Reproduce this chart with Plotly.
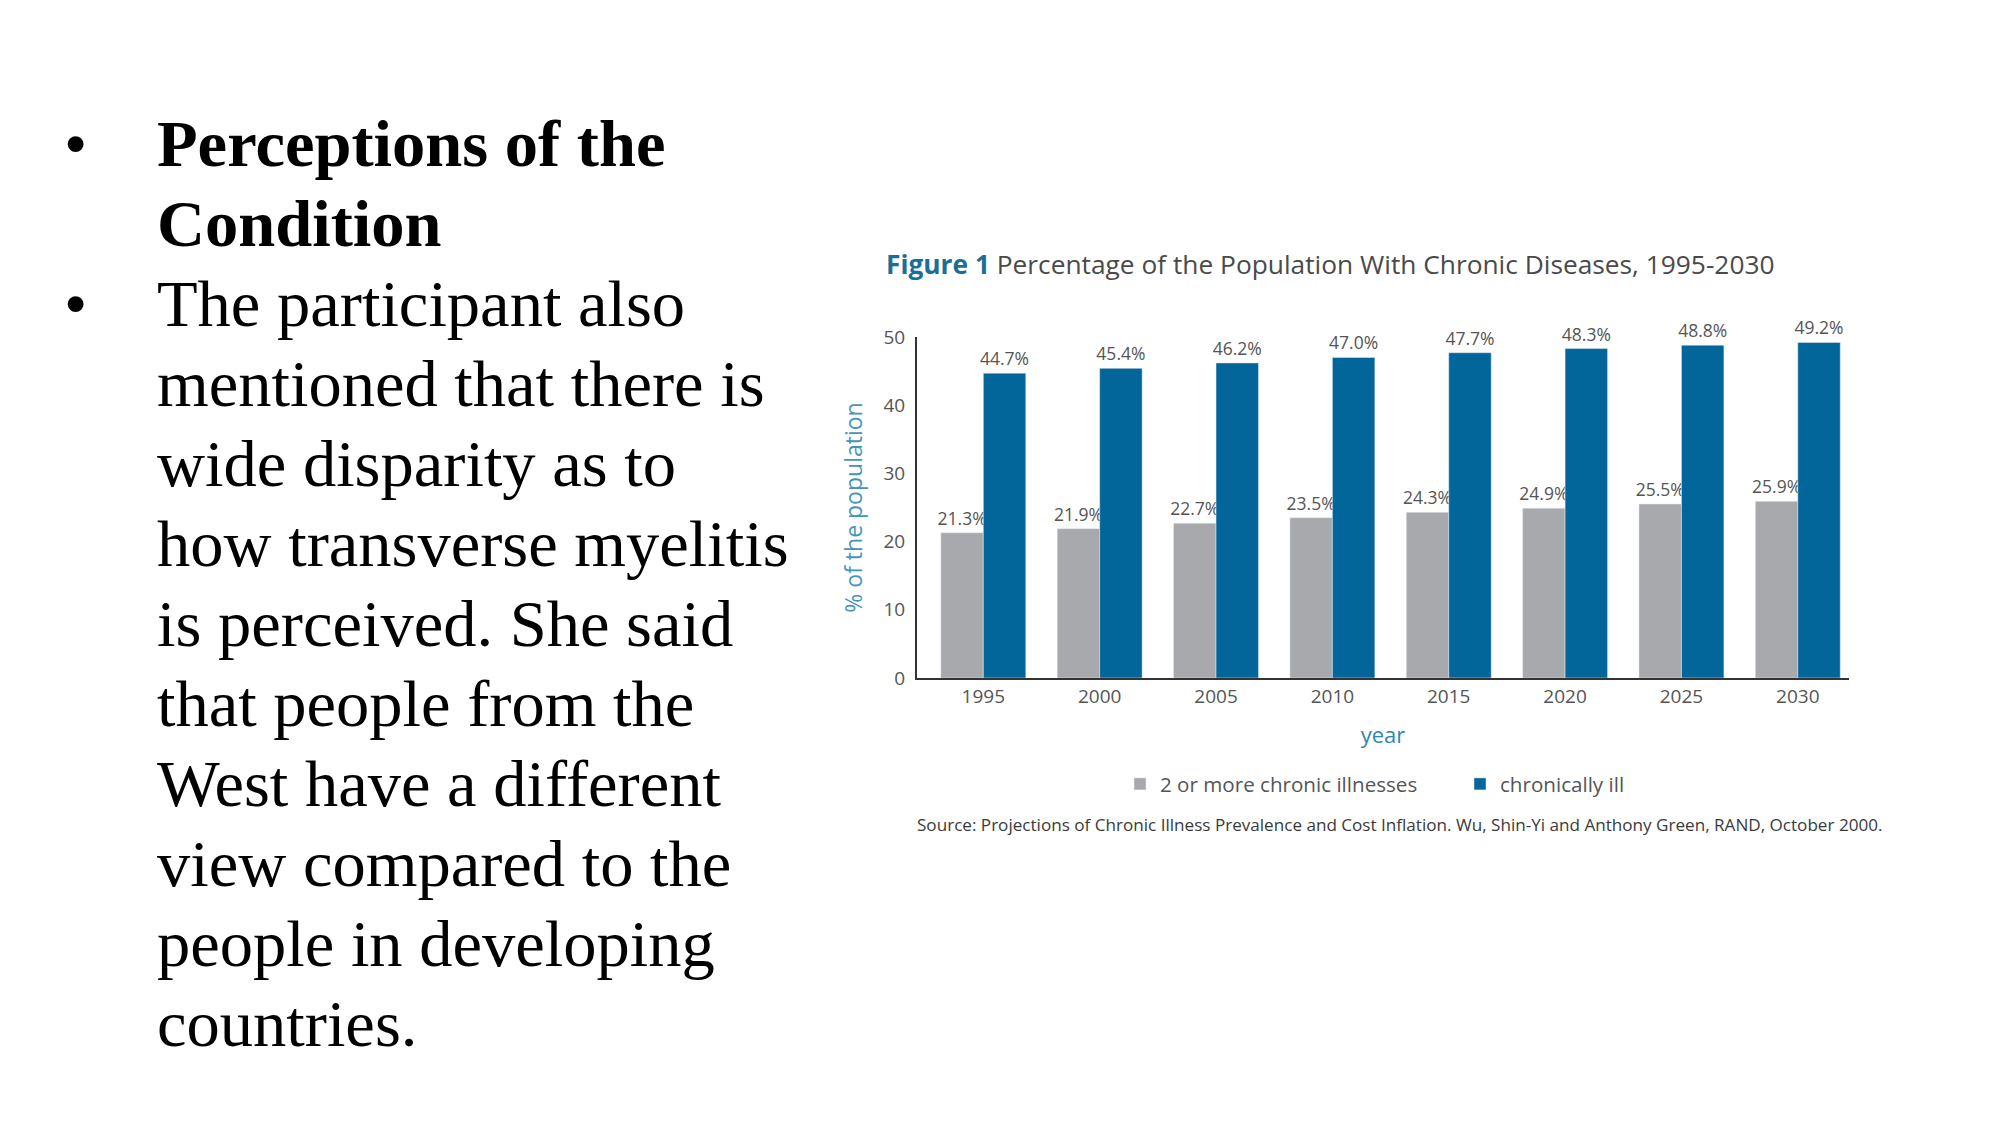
import plotly.graph_objects as go

# ---- data ----
years = ["1995", "2000", "2005", "2010", "2015", "2020", "2025", "2030"]
two_or_more = [21.3, 21.9, 22.7, 23.5, 24.3, 24.9, 25.5, 25.9]
chronically_ill = [44.7, 45.4, 46.2, 47.0, 47.7, 48.3, 48.8, 49.2]
series_names = ["2 or more chronic illnesses", "chronically ill"]
y_ticks = [0, 10, 20, 30, 40, 50]

bullet_lines = [
    ("Perceptions of the", True, True),
    ("Condition", True, False),
    ("The participant also", False, True),
    ("mentioned that there is", False, False),
    ("wide disparity as to", False, False),
    ("how transverse myelitis", False, False),
    ("is perceived. She said", False, False),
    ("that people from the", False, False),
    ("West have a different", False, False),
    ("view compared to the", False, False),
    ("people in developing", False, False),
    ("countries.", False, False),
]

# ---- layout geometry (page pixels) ----
W, H = 2001, 1125
BODY = 8  # default page body margin
PL, PR, PT, PB = 917, 1849, 337, 678  # plot area edges on the page


def px(x):
    return (x - PL) / (PR - PL)


def py(y):
    return (PB - y) / (PB - PT)


GRAY = "#A7A9AC"
BLUE = "#03669A"
TXT = "#555555"
CHART_FONT = "Open Sans"

fig = go.Figure()
fig.add_trace(go.Bar(
    x=years, y=two_or_more, name=series_names[0], marker_color=GRAY,
    texttemplate="%{y:.1f}%", textposition="outside",
    textfont=dict(size=17.5, color=TXT, family=CHART_FONT),
    cliponaxis=False, constraintext="none",
))
fig.add_trace(go.Bar(
    x=years, y=chronically_ill, name=series_names[1], marker_color=BLUE,
    texttemplate="%{y:.1f}%", textposition="outside",
    textfont=dict(size=17.5, color=TXT, family=CHART_FONT),
    cliponaxis=False, constraintext="none",
))

annotations = []
# Title
annotations.append(dict(
    xref="paper", yref="paper", x=px(884), y=py(264), xanchor="left", yanchor="middle",
    text="<span style='color:#1B6F95'><b>Figure 1</b></span> Percentage of the Population With Chronic Diseases, 1995-2030",
    showarrow=False, font=dict(size=26.3, color="#4A4A4A", family=CHART_FONT),
))
# Source
annotations.append(dict(
    xref="paper", yref="paper", x=px(915), y=py(824), xanchor="left", yanchor="middle",
    text="Source: Projections of Chronic Illness Prevalence and Cost Inflation. Wu, Shin-Yi and Anthony Green, RAND, October 2000.",
    showarrow=False, font=dict(size=17.1, color="#3A3A3A", family=CHART_FONT),
))

# Left-hand slide text
SERIF = "Liberation Serif"
for i, (line, bold, bullet) in enumerate(bullet_lines):
    yc = 143 + 80 * i
    annotations.append(dict(
        xref="paper", yref="paper", x=px(155), y=py(yc), xanchor="left", yanchor="middle",
        text=f"<b>{line}</b>" if bold else line, showarrow=False,
        font=dict(size=66.5, color="#000000", family=SERIF),
    ))
    if bullet:
        annotations.append(dict(
            xref="paper", yref="paper", x=px(75), y=py(yc), xanchor="center", yanchor="middle",
            text="•", showarrow=False,
            font=dict(size=66.5, color="#000000", family=SERIF),
        ))

fw, fh = W - 2 * BODY, H - 2 * BODY
fig.update_layout(
    width=fw, height=fh,
    margin=dict(l=PL - BODY, r=fw - (PR - BODY), t=PT - BODY, b=fh - (PB - BODY), autoexpand=False),
    paper_bgcolor="white", plot_bgcolor="white",
    barmode="group", bargap=0.27, bargroupgap=0,
    showlegend=True,
    legend=dict(
        orientation="h", x=px(1120), y=py(784), xanchor="left", yanchor="middle",
        font=dict(size=20.6, color=TXT, family=CHART_FONT),
        entrywidth=295, entrywidthmode="pixels", bgcolor="rgba(0,0,0,0)",
    ),
    annotations=annotations,
    font=dict(family=CHART_FONT),
)
fig.update_xaxes(
    type="category", range=[-0.57, 7.44], showline=True, linecolor="#333333", linewidth=2,
    ticks="", showgrid=False, zeroline=False,
    tickfont=dict(size=19, color=TXT, family=CHART_FONT),
    title=dict(text="year", font=dict(size=22, color="#2F86B0", family=CHART_FONT), standoff=20),
    automargin=False,
)
fig.update_yaxes(
    range=[0, 50], tickvals=y_ticks, showline=True, linecolor="#333333", linewidth=2,
    ticks="outside", ticklen=6, tickcolor="rgba(0,0,0,0)", showgrid=False, zeroline=False,
    tickfont=dict(size=19, color=TXT, family=CHART_FONT),
    title=dict(text="% of the population", font=dict(size=23, color="#4595B8", family=CHART_FONT), standoff=14),
    automargin=False,
)

fig.write_html("out.html")
